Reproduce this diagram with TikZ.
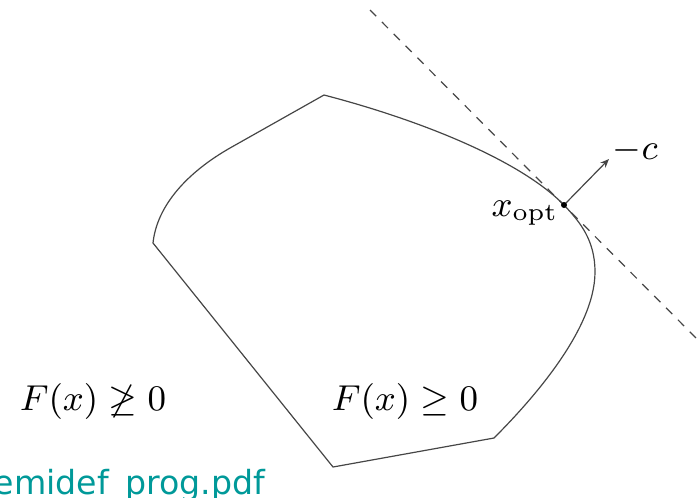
\documentclass[tikz,border=0pt]{standalone}
\usepackage{amssymb}
\usepackage{fontspec}
\newfontfamily\linkfont{DejaVu Sans}
\usetikzlibrary{arrows.meta}
\definecolor{linkteal}{RGB}{0,153,153}
\definecolor{edgegray}{RGB}{70,70,70}
\tikzset{
  setedge/.style={draw=edgegray, line width=0.3pt, line join=round},
  tangentline/.style={draw=edgegray, line width=0.3pt, dash pattern=on 2.2pt off 2pt},
  normalarrow/.style={draw=edgegray, line width=0.3pt, -{Stealth[length=2.2pt,width=1.8pt]}},
  mathlabel/.style={inner sep=0pt, font=\fontsize{9.4}{11}\selectfont},
  smalllabel/.style={inner sep=0pt, font=\fontsize{8.8}{10}\selectfont},
}
\begin{document}
\begin{tikzpicture}[x=0.25pt, y=-0.25pt]
\useasboundingbox (0,0) rectangle (698,497);
\clip (0,0) rectangle (698,497);
% key points
\coordinate (top) at (324,95);
\coordinate (lb) at (230,148);
\coordinate (lc) at (153,243);
\coordinate (bot) at (333,467);
\coordinate (br) at (494,438);
\coordinate (rg) at (595,272);
\coordinate (xopt) at (564,205);
\coordinate (tanA) at (370,10);
\coordinate (tanB) at (700,342);
\coordinate (ctip) at (609,159);
% feasible set boundary
\path[setedge] (top) -- (lb)
  .. controls (188,172) and (157,205) .. (lc)
  -- (bot) -- (br)
  .. controls (530,402) and (595,330) .. (rg)
  .. controls (595,240) and (580,222) .. (xopt)
  .. controls (520,160) and (420,120) .. (top) -- cycle;
% tangent line
\path[tangentline] (tanA) -- (tanB);
% normal arrow
\path[normalarrow] (xopt) -- (ctip);
\fill[black] (xopt) circle[radius=3];
% labels
\node[smalllabel, anchor=base east] (xlab) at (559,216) {$x_{\mathrm{opt}}$};
\node[smalllabel, anchor=base west] (clab) at (612,159) {$-c$};
\node[mathlabel, anchor=base west] (infeas) at (19,410) {$F(x) \not\geq 0$};
\node[mathlabel, anchor=base west] (feas) at (331,410) {$F(x) \geq 0$};
\node[inner sep=0pt, anchor=base east, text=linkteal, font=\linkfont\fontsize{8.3}{10}\selectfont] (link) at (266,494) {semidef\_prog.pdf};
\end{tikzpicture}
\end{document}
